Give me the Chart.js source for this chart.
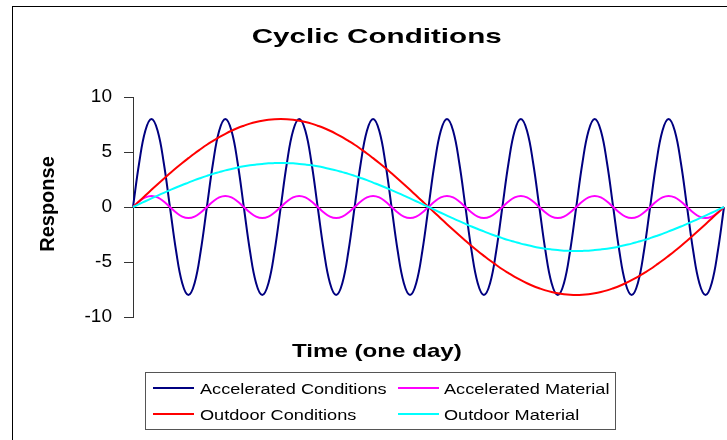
<!DOCTYPE html>
<html lang="en">
<head>
    <meta charset="UTF-8">
    <title>Cyclic Conditions</title>
    <style>
        * {
            margin: 0;
            padding: 0;
            box-sizing: border-box;
        }
        body {
            background-color: #fff;
            font-family: "Liberation Sans", Arial, sans-serif;
        }
        .wrap {
            position: relative;
            width: 727px;
            height: 440px;
            overflow: hidden;
            background: #fff;
        }
        .frame {
            position: absolute;
            left: 12px;
            top: 6px;
            width: 800px;
            height: 500px;
            border-left: 1px solid #000;
            border-top: 1px solid #000;
        }
        canvas {
            position: absolute;
            left: 0;
            top: 0;
        }
        .title, .xtitle {
            position: absolute;
            left: 0;
            width: 754px;
            text-align: center;
            font-weight: bold;
            color: #000;
            white-space: nowrap;
        }
        .title span, .xtitle span {
            display: inline-block;
        }
        .title {
            top: 25px;
            font-size: 21px;
            line-height: 21px;
        }
        .title span {
            transform: scaleX(1.41);
        }
        .xtitle {
            top: 341px;
            font-size: 19px;
            line-height: 19px;
        }
        .xtitle span {
            transform: scaleX(1.27);
        }
        .ytitle {
            position: absolute;
            left: -53px;
            top: 194px;
            width: 200px;
            height: 20px;
            line-height: 20px;
            font-size: 20px;
            font-weight: bold;
            text-align: center;
            transform: rotate(-90deg);
        }
        .legend {
            position: absolute;
            left: 145px;
            top: 372px;
            width: 471px;
            height: 58px;
            border: 1px solid #555;
        }
        .legend .sw {
            position: absolute;
            width: 41px;
            height: 2px;
        }
        .legend .txt {
            position: absolute;
            font-size: 15px;
            line-height: 15px;
            white-space: nowrap;
            transform: scaleX(1.21);
            transform-origin: left center;
        }
    </style>
</head>
<body>

<div class="wrap">
    <div class="frame"></div>
    <canvas id="cyclicChart" width="727" height="440"></canvas>
    <div class="title"><span>Cyclic Conditions</span></div>
    <div class="ytitle">Response</div>
    <div class="xtitle"><span>Time (one day)</span></div>

    <!-- Legend -->
    <div class="legend">
        <div class="sw" style="left:7px; top:14px; background:#000080;"></div>
        <div class="txt" style="left:54px; top:8px;">Accelerated Conditions</div>
        <div class="sw" style="left:252px; top:14px; background:#ff00ff;"></div>
        <div class="txt" style="left:298px; top:8px;">Accelerated Material</div>
        <div class="sw" style="left:7px; top:40px; background:#ff0000;"></div>
        <div class="txt" style="left:54px; top:34px;">Outdoor Conditions</div>
        <div class="sw" style="left:252px; top:40px; background:#00ffff;"></div>
        <div class="txt" style="left:298px; top:34px;">Outdoor Material</div>
    </div>
</div>

<script src="https://cdn.jsdelivr.net/npm/chart.js@4.4.0/dist/chart.umd.min.js"></script>

<script>
// time of day, hours (every 15 min)
const timeHours = [
    0, 0.25, 0.5, 0.75, 1, 1.25, 1.5, 1.75, 2, 2.25, 2.5, 2.75,
    3, 3.25, 3.5, 3.75, 4, 4.25, 4.5, 4.75, 5, 5.25, 5.5, 5.75,
    6, 6.25, 6.5, 6.75, 7, 7.25, 7.5, 7.75, 8, 8.25, 8.5, 8.75,
    9, 9.25, 9.5, 9.75, 10, 10.25, 10.5, 10.75, 11, 11.25, 11.5, 11.75,
    12, 12.25, 12.5, 12.75, 13, 13.25, 13.5, 13.75, 14, 14.25, 14.5, 14.75,
    15, 15.25, 15.5, 15.75, 16, 16.25, 16.5, 16.75, 17, 17.25, 17.5, 17.75,
    18, 18.25, 18.5, 18.75, 19, 19.25, 19.5, 19.75, 20, 20.25, 20.5, 20.75,
    21, 21.25, 21.5, 21.75, 22, 22.25, 22.5, 22.75, 23, 23.25, 23.5, 23.75,
    24
];

const acceleratedConditions = [
    0, 4, 6.93, 8, 6.93, 4, 0, -4, -6.93, -8, -6.93, -4,
    0, 4, 6.93, 8, 6.93, 4, 0, -4, -6.93, -8, -6.93, -4,
    0, 4, 6.93, 8, 6.93, 4, 0, -4, -6.93, -8, -6.93, -4,
    0, 4, 6.93, 8, 6.93, 4, 0, -4, -6.93, -8, -6.93, -4,
    0, 4, 6.93, 8, 6.93, 4, 0, -4, -6.93, -8, -6.93, -4,
    0, 4, 6.93, 8, 6.93, 4, 0, -4, -6.93, -8, -6.93, -4,
    0, 4, 6.93, 8, 6.93, 4, 0, -4, -6.93, -8, -6.93, -4,
    0, 4, 6.93, 8, 6.93, 4, 0, -4, -6.93, -8, -6.93, -4,
    0
];

const acceleratedMaterial = [
    0, 0.5, 0.87, 1, 0.87, 0.5, 0, -0.5, -0.87, -1, -0.87, -0.5,
    0, 0.5, 0.87, 1, 0.87, 0.5, 0, -0.5, -0.87, -1, -0.87, -0.5,
    0, 0.5, 0.87, 1, 0.87, 0.5, 0, -0.5, -0.87, -1, -0.87, -0.5,
    0, 0.5, 0.87, 1, 0.87, 0.5, 0, -0.5, -0.87, -1, -0.87, -0.5,
    0, 0.5, 0.87, 1, 0.87, 0.5, 0, -0.5, -0.87, -1, -0.87, -0.5,
    0, 0.5, 0.87, 1, 0.87, 0.5, 0, -0.5, -0.87, -1, -0.87, -0.5,
    0, 0.5, 0.87, 1, 0.87, 0.5, 0, -0.5, -0.87, -1, -0.87, -0.5,
    0, 0.5, 0.87, 1, 0.87, 0.5, 0, -0.5, -0.87, -1, -0.87, -0.5,
    0
];

const outdoorConditions = [
    0, 0.52, 1.04, 1.56, 2.07, 2.57, 3.06, 3.54, 4.00, 4.44, 4.87, 5.27,
    5.66, 6.01, 6.35, 6.65, 6.93, 7.18, 7.39, 7.58, 7.73, 7.85, 7.93, 7.98,
    8.00, 7.98, 7.93, 7.85, 7.73, 7.58, 7.39, 7.18, 6.93, 6.65, 6.35, 6.01,
    5.66, 5.27, 4.87, 4.44, 4.00, 3.54, 3.06, 2.57, 2.07, 1.56, 1.04, 0.52,
    0, -0.52, -1.04, -1.56, -2.07, -2.57, -3.06, -3.54, -4.00, -4.44, -4.87, -5.27,
    -5.66, -6.01, -6.35, -6.65, -6.93, -7.18, -7.39, -7.58, -7.73, -7.85, -7.93, -7.98,
    -8.00, -7.98, -7.93, -7.85, -7.73, -7.58, -7.39, -7.18, -6.93, -6.65, -6.35, -6.01,
    -5.66, -5.27, -4.87, -4.44, -4.00, -3.54, -3.06, -2.57, -2.07, -1.56, -1.04, -0.52,
    0
];

const outdoorMaterial = [
    0, 0.26, 0.52, 0.78, 1.04, 1.29, 1.53, 1.77, 2.00, 2.22, 2.44, 2.64,
    2.83, 3.01, 3.17, 3.33, 3.46, 3.59, 3.70, 3.79, 3.86, 3.92, 3.97, 3.99,
    4.00, 3.99, 3.97, 3.92, 3.86, 3.79, 3.70, 3.59, 3.46, 3.33, 3.17, 3.01,
    2.83, 2.64, 2.44, 2.22, 2.00, 1.77, 1.53, 1.29, 1.04, 0.78, 0.52, 0.26,
    0, -0.26, -0.52, -0.78, -1.04, -1.29, -1.53, -1.77, -2.00, -2.22, -2.44, -2.64,
    -2.83, -3.01, -3.17, -3.33, -3.46, -3.59, -3.70, -3.79, -3.86, -3.92, -3.97, -3.99,
    -4.00, -3.99, -3.97, -3.92, -3.86, -3.79, -3.70, -3.59, -3.46, -3.33, -3.17, -3.01,
    -2.83, -2.64, -2.44, -2.22, -2.00, -1.77, -1.53, -1.29, -1.04, -0.78, -0.52, -0.26,
    0
];

const yTicks = [-10, -5, 0, 5, 10];

function lineSet(label, data, color, order) {
    return {
        label: label,
        data: data,
        borderColor: color,
        backgroundColor: color,
        borderWidth: 2,
        pointRadius: 0,
        tension: 0.4,
        fill: false,
        order: order
    };
}

new Chart(document.getElementById('cyclicChart'), {
    type: 'line',
    data: {
        labels: timeHours,
        datasets: [
            lineSet('Accelerated Conditions', acceleratedConditions, '#000080', 3),
            lineSet('Accelerated Material', acceleratedMaterial, '#ff00ff', 2),
            lineSet('Outdoor Conditions', outdoorConditions, '#ff0000', 1),
            lineSet('Outdoor Material', outdoorMaterial, '#00ffff', 0)
        ]
    },
    options: {
        responsive: false,
        animation: false,
        devicePixelRatio: 1,
        layout: {
            padding: { left: 60, right: 3, top: 97, bottom: 123 }
        },
        plugins: {
            legend: { display: false },
            title: { display: false },
            tooltip: { enabled: false }
        },
        scales: {
            x: {
                display: false
            },
            y: {
                min: yTicks[0],
                max: yTicks[yTicks.length - 1],
                afterBuildTicks: axis => {
                    axis.ticks = yTicks.map(v => ({ value: v }));
                },
                afterFit: axis => {
                    axis.width = 73;
                },
                border: { display: true, color: '#333', width: 1 },
                grid: {
                    drawOnChartArea: true,
                    drawTicks: true,
                    tickLength: 9,
                    tickColor: '#333',
                    color: ctx => (ctx.tick && ctx.tick.value === 0) ? '#000' : 'rgba(0,0,0,0)',
                    lineWidth: 1
                },
                ticks: {
                    padding: 12,
                    color: '#000',
                    font: { family: '"Liberation Sans", Arial, sans-serif', size: 19 }
                }
            }
        }
    }
});
</script>

</body>
</html>
